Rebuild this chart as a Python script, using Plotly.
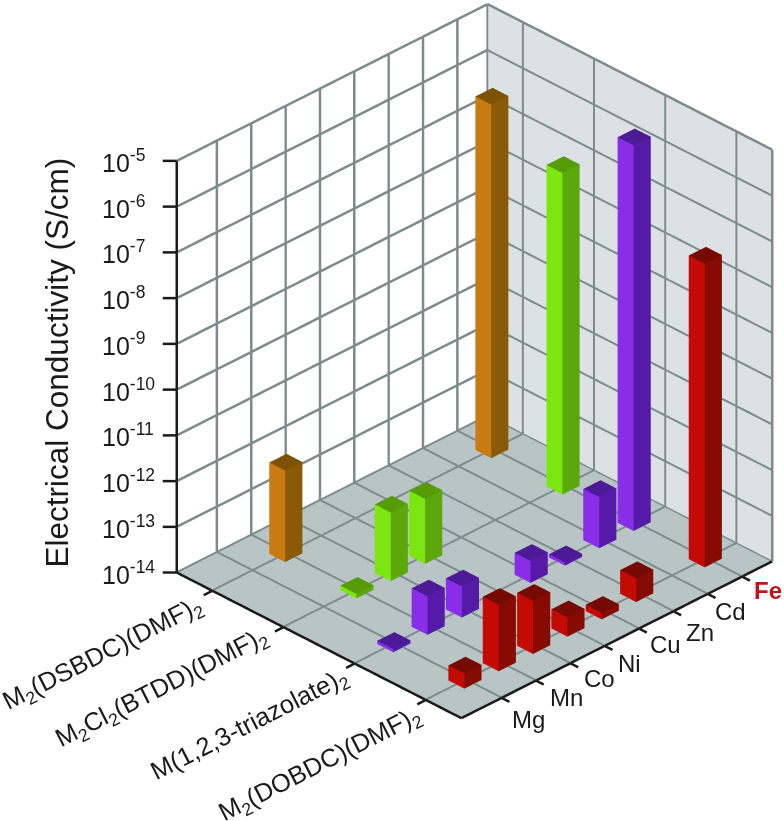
import plotly.graph_objects as go

# exponent of the conductivity, None where nothing was measured
metals = ["Mg", "Mn", "Co", "Ni", "Cu", "Zn", "Cd", "Fe"]
mofs = ["M<sub>2</sub>(DSBDC)(DMF)<sub>2</sub>", "M<sub>2</sub>Cl<sub>2</sub>(BTDD)(DMF)<sub>2</sub>",
        "M(1,2,3-triazolate)<sub>2</sub>", "M<sub>2</sub>(DOBDC)(DMF)<sub>2</sub>"]
dsbdc = [None, -12.0, None, None, None, None, None, -6.27]
btdd = [None, -13.9, -12.5, -12.58, None, None, None, -6.97]
triazolate = [-13.93, -13.16, -13.32, None, -13.52, -13.93, -12.88, -5.57]
dobdc = [-13.67, -12.55, -12.84, -13.58, -13.86, -13.48, None, -7.36]
z_ticks = [-14, -13, -12, -11, -10, -9, -8, -7, -6, -5]

series = [dsbdc, btdd, triazolate, dobdc]
# left face, right face, top face
bar_colors = [("#c97a10", "#8a5a08", "#7d5205"), ("#7ce611", "#5aa80a", "#559c08"),
              ("#8a2de8", "#561aa8", "#4c1a96"), ("#c40a05", "#860b02", "#760a02")]

GRID = "#7d8b8c"
INK = "#1a1a1a"
FONT = "Liberation Sans"

# drawn box, the scene range is wider so that ticks are not clipped
x0, x1 = -0.5, 3.5
y0, y1 = -1.17, 7.88
z0, z1 = -14, -5
pad_x, pad_y, pad_z = 0.5, 1.0, 0.5
bar_dx, bar_dy = 0.112, 0.25
bar_off = -0.03

fig = go.Figure()


def add_quads(quads, colors):
    xs, ys, zs, i, j, k, fc = [], [], [], [], [], [], []
    for q, c in zip(quads, colors):
        n = len(xs)
        for p in q:
            xs.append(p[0]); ys.append(p[1]); zs.append(p[2])
        i += [n, n]; j += [n + 1, n + 2]; k += [n + 2, n + 3]
        fc += [c, c]
    fig.add_trace(go.Mesh3d(x=xs, y=ys, z=zs, i=i, j=j, k=k, facecolor=fc, flatshading=True,
                            lighting=dict(ambient=1, diffuse=0, specular=0, fresnel=0, roughness=1),
                            hoverinfo="skip", showscale=False))


def add_lines(segs, color, width):
    xs, ys, zs = [], [], []
    for a, b in segs:
        xs += [a[0], b[0], None]; ys += [a[1], b[1], None]; zs += [a[2], b[2], None]
    fig.add_trace(go.Scatter3d(x=xs, y=ys, z=zs, mode="lines", line=dict(color=color, width=width),
                               hoverinfo="skip", showlegend=False))


# walls and floor
e = 0.01
add_quads([[(x0 - e, y0, z0), (x0 - e, y1, z0), (x0 - e, y1, z1), (x0 - e, y0, z1)],
           [(x0, y1 + e, z0), (x1, y1 + e, z0), (x1, y1 + e, z1), (x0, y1 + e, z1)],
           [(x0, y0, z0 - e), (x1, y0, z0 - e), (x1, y1, z0 - e), (x0, y1, z0 - e)]],
          ["#ffffff", "#dbe1e5", "#b9c4c4"])

# grid
xt = list(range(len(mofs)))
yt = list(range(len(metals)))
grid = []
for z in z_ticks:
    grid.append(((x0, y0, z), (x0, y1, z)))
    grid.append(((x0, y1, z), (x1, y1, z)))
for y in yt + [y1]:
    grid.append(((x0, y, z0), (x0, y, z1)))
for x in xt + [x1]:
    grid.append(((x, y1, z0), (x, y1, z1)))
for y in yt:
    grid.append(((x0, y, z0), (x1, y, z0)))
for x in xt:
    grid.append(((x, y0, z0), (x, y1, z0)))
add_lines(grid, GRID, 5)

# bars
for vals, cols in zip(series, bar_colors):
    m = series.index(vals)
    quads, colors = [], []
    for n, v in enumerate(vals):
        if v is None:
            continue
        xa, xb, ya, yb = m - bar_dx, m + bar_dx, n + bar_off - bar_dy, n + bar_off + bar_dy
        quads += [[(xa, ya, z0), (xb, ya, z0), (xb, ya, v), (xa, ya, v)],
                  [(xb, ya, z0), (xb, yb, z0), (xb, yb, v), (xb, ya, v)],
                  [(xa, ya, v), (xb, ya, v), (xb, yb, v), (xa, yb, v)]]
        colors += list(cols)
    add_quads(quads, colors)

# axis lines and ticks
axes = [((x0, y0, z0), (x1, y0, z0)), ((x1, y0, z0), (x1, y1, z0)), ((x0, y0, z0), (x0, y0, z1))]
for z in z_ticks:
    axes.append(((x0, y0, z), (x0 - 0.0974, y0 - 0.205, z)))
for x in xt:
    axes.append(((x, y0, z0), (x, y0 - 0.25, z0)))
for y in yt:
    axes.append(((x1, y, z0), (x1 + 0.11, y, z0)))
add_lines(axes, INK, 5)

# labels
notes = []
for z in z_ticks:
    notes.append(dict(x=x0, y=y0, z=z, text="10<sup>%d</sup>" % z, showarrow=False, xanchor="left",
                      xshift=-77, yshift=0, font=dict(family=FONT, size=25, color=INK)))
notes.append(dict(x=x0, y=y0, z=-9.5, text="Electrical Conductivity (S/cm)", showarrow=False, textangle=-90,
                  xshift=-120, yshift=4, font=dict(family=FONT, size=31.5, color=INK)))
mof_shift = [(-109, -63), (-121, -61), (-105, -61), (-106, -65)]
for x, label, s in zip(xt, mofs, mof_shift):
    notes.append(dict(x=x, y=y0, z=z0, text=label, showarrow=False, textangle=-27, xshift=s[0], yshift=s[1],
                      font=dict(family=FONT, size=25.5, color=INK)))
metal_shift = [(27, -22), (31, -17), (29, -15), (25, -18), (27, -16), (27, -21), (23, -18), (26, -14)]
for y, label, s in zip(yt, metals, metal_shift):
    fe = label == "Fe"
    notes.append(dict(x=x1, y=y, z=z0, text="<b>%s</b>" % label if fe else label, showarrow=False,
                      xshift=s[0], yshift=s[1],
                      font=dict(family=FONT, size=24, color="#c0141c" if fe else INK)))

hidden = dict(visible=False, showgrid=False, showline=False, zeroline=False, showticklabels=False,
              showbackground=False, showspikes=False, title="")
k = 0.002436
cx, cy, cz = -0.1404, -0.1414, -0.1386
fig.update_layout(
    width=784, height=821, margin=dict(l=0, r=0, t=0, b=0), paper_bgcolor="white",
    font=dict(family=FONT),
    scene=dict(
        domain=dict(x=[0, 1], y=[0, 1]),
        xaxis=dict(hidden, range=[x0 - pad_x, x1 + pad_x]),
        yaxis=dict(hidden, range=[y0 - pad_y, 7.84 + pad_y]),
        zaxis=dict(hidden, range=[z0 - pad_z, z1 + pad_z]),
        aspectmode="manual",
        aspectratio=dict(x=k * 101 * (x1 - x0 + 2 * pad_x), y=k * 48.4 * (7.84 - y0 + 2 * pad_y),
                         z=k * 53.1 * (z1 - z0 + 2 * pad_z)),
        camera=dict(eye=dict(x=1.42 + cx, y=-1.41 + cy, z=1.18 + cz), up=dict(x=0, y=0, z=1),
                    center=dict(x=cx, y=cy, z=cz), projection=dict(type="orthographic")),
        annotations=notes,
    ),
)

fig.write_html("out.html", config=dict(displayModeBar=False),
               post_script="document.body.style.margin='0';document.body.style.overflow='hidden';")
